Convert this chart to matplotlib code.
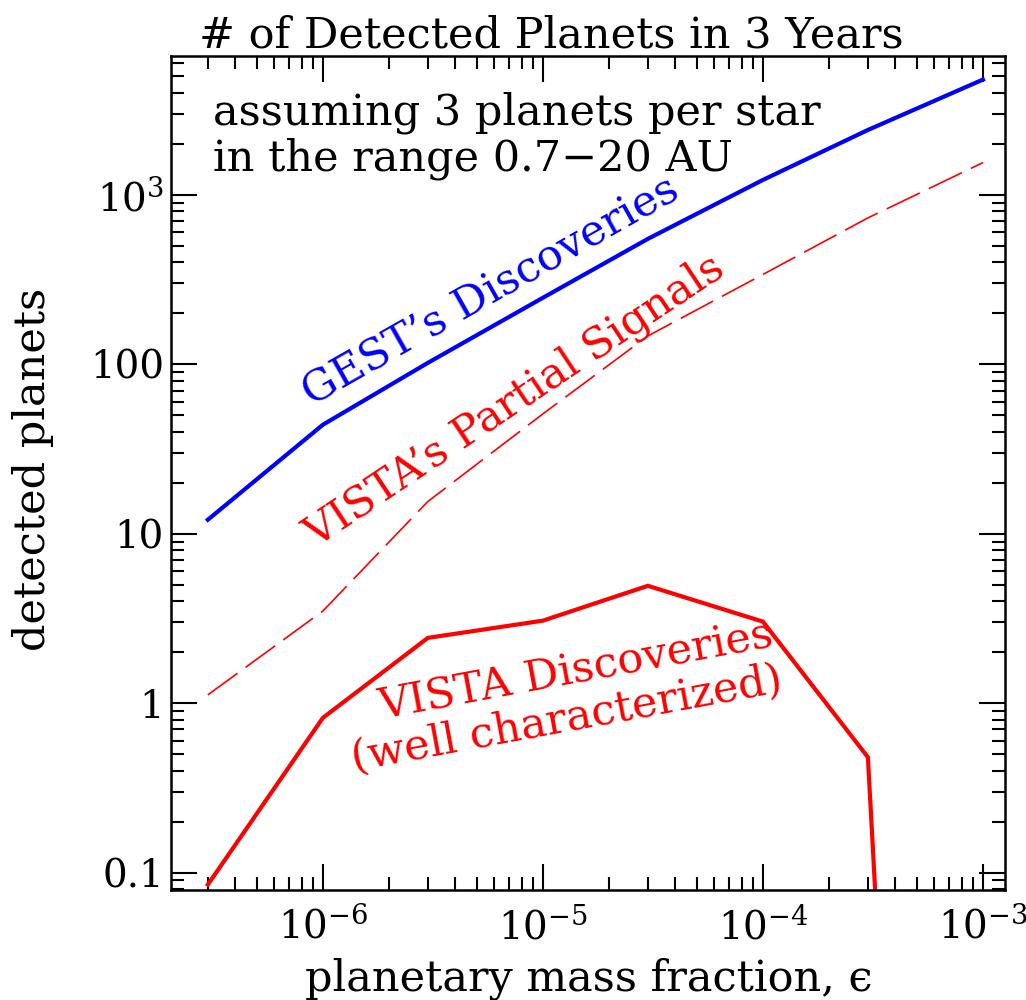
import matplotlib
matplotlib.use("Agg")
import matplotlib.pyplot as plt
from matplotlib.ticker import NullFormatter, FixedLocator, LogLocator

plt.rcParams['font.family'] = ['DejaVu Serif']
plt.rcParams['mathtext.fontset'] = 'dejavuserif'

# ---- data ----
eps = [3e-7, 1e-6, 3e-6, 1e-5, 3e-5, 1e-4, 3e-4, 1e-3]
gest_disc = [12.1, 44, 102, 247, 550, 1225, 2415, 4790]
vista_partial = [1.12, 3.5, 15.5, 51, 147, 339, 731, 1550]
vista_eps = [3e-7, 1e-6, 3e-6, 1e-5, 3e-5, 1e-4, 3e-4, 3.3e-4]
vista_disc = [0.085, 0.82, 2.43, 3.07, 4.93, 3.03, 0.48, 0.05]

xtick_vals = [1e-6, 1e-5, 1e-4, 1e-3]
xtick_labels = [r'10$^{-6}$', r'10$^{-5}$', r'10$^{-4}$', r'10$^{-3}$']
ytick_vals = [0.1, 1, 10, 100, 1000]
ytick_labels = ['0.1', '1', '10', '100', r'10$^{3}$']

W, H = 1026, 1000
fig = plt.figure(figsize=(W / 100, H / 100), dpi=100)
ax = fig.add_axes([171 / W, 1 - 890 / H, (1005 - 171) / W, (890 - 56) / H])

ax.plot(eps, gest_disc, color='#0000ff', lw=3.0, solid_joinstyle='miter')
ax.plot(eps, vista_partial, color='#ff0000', lw=1.2, ls=(0, (22, 6)))
ax.plot(vista_eps, vista_disc, color='#ff0000', lw=3.0, solid_joinstyle='miter')

ax.set_xscale('log')
ax.set_yscale('log')
ax.set_xlim(2.04e-7, 1.26e-3)
ax.set_ylim(0.079, 6600)

ax.xaxis.set_major_locator(FixedLocator(xtick_vals))
ax.set_xticklabels(xtick_labels)
ax.yaxis.set_major_locator(FixedLocator(ytick_vals))
ax.set_yticklabels(ytick_labels)
ax.xaxis.set_minor_locator(LogLocator(base=10, subs=range(2, 10), numticks=20))
ax.yaxis.set_minor_locator(LogLocator(base=10, subs=range(2, 10), numticks=20))
ax.xaxis.set_minor_formatter(NullFormatter())
ax.yaxis.set_minor_formatter(NullFormatter())

ax.tick_params(which='both', direction='in', top=True, right=True, width=1.5, colors='black')
ax.tick_params(which='major', length=19, labelsize=28)
ax.tick_params(axis='x', which='major', pad=12)
ax.tick_params(axis='y', which='major', pad=5)
ax.tick_params(which='minor', length=9.5)
for s in ax.spines.values():
    s.set_linewidth(1.8)

def fx(px):
    return px / W

def fy(py):
    return 1 - py / H

fs = 31
fig.text(fx(551), fy(47), '# of Detected Planets in 3 Years', ha='center', va='baseline', fontsize=fs)
fig.text(fx(213), fy(124), 'assuming 3 planets per star', ha='left', va='baseline', fontsize=fs)
fig.text(fx(213), fy(171), 'in the range 0.7\u221220 AU', ha='left', va='baseline', fontsize=fs)

fig.text(fx(33), fy(469), 'detected planets', rotation=90, ha='center', va='center', fontsize=fs)
fig.text(fx(589), fy(990), 'planetary mass fraction, \u03f5', ha='center', va='baseline', fontsize=fs)

fig.text(fx(497), fy(302), 'GEST\u2019s Discoveries', color='#0000ff', rotation=29.5,
         rotation_mode='anchor', ha='center', va='baseline', fontsize=fs)
fig.text(fx(521), fy(411), 'VISTA\u2019s Partial Signals', color='#ff0000', rotation=33.7,
         rotation_mode='anchor', ha='center', va='baseline', fontsize=fs)
fig.text(fx(578), fy(683), 'VISTA Discoveries', color='#ff0000', rotation=10.5,
         rotation_mode='anchor', ha='center', va='baseline', fontsize=fs)
fig.text(fx(569), fy(731), '(well characterized)', color='#ff0000', rotation=10.5,
         rotation_mode='anchor', ha='center', va='baseline', fontsize=fs)

fig.savefig('out.png', dpi=100)
